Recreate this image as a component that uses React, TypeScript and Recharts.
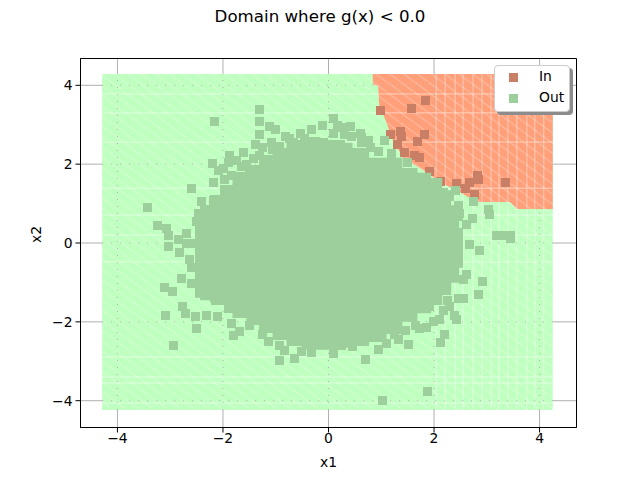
import {
  Area,
  CartesianGrid,
  ComposedChart,
  ReferenceArea,
  ReferenceLine,
  Scatter,
  XAxis,
  YAxis,
} from "recharts";

const LIM_X = 4.7;
const LIM_Y = 4.68;
const ticks = [-4, -2, 0, 2, 4];

const GREEN = "#bfffbf";
const CORAL = "#ffa07a";
const OUT_COLOR = "#9ccf9c";
const IN_COLOR = "#c87f65";

// lattice extent
const latticeX = [-4.29, 4.25];
const latticeY = [-4.235, 4.286];

// lower edge of the "In" part of the lattice
const inEdgeX = [0.84, 0.94, 0.96, 1.01, 1.22, 1.41, 1.79, 2.11, 2.49, 2.81, 3.44, 3.57, 4.25];
const inEdgeY = [4.03, 3.98, 3.5, 3.37, 2.61, 2.16, 1.85, 1.55, 1.29, 1.04, 1.04, 0.86, 0.86];

// pale seams between the lattice squares
const seamX = [2.04, 2.21, 2.4, 2.55, 2.74, 2.91, 3.08, 3.23, 3.4, 3.57, 3.76, 3.91, 4.08];
const seamY = [3.78, 3.3, 2.56, 1.39, 0.71, 0.2, -0.48, -2.89, -3.4, -3.55, -4.06];

// the overplotted middle of the cloud
const coreX = [-2.53, -2.34, -2.15, -1.96, -1.68, -1.43, -1.2, -0.92, -0.67, -0.35, 0.03, 0.31, 0.6, 0.94, 1.26, 1.54, 1.83, 2.06, 2.25, 2.4, 2.55];
const coreTop = [0.79, 0.96, 1.22, 1.47, 1.8, 1.98, 2.23, 2.41, 2.61, 2.69, 2.61, 2.54, 2.41, 2.16, 2.16, 1.9, 1.78, 1.65, 1.34, 0.96, 0.38];
const coreBottom = [-1.39, -1.45, -1.5, -1.57, -1.9, -2.08, -2.28, -2.46, -2.61, -2.71, -2.71, -2.66, -2.61, -2.51, -2.31, -2.0, -1.78, -1.57, -1.32, -1.01, -0.63];

const outX = [
  -1.31, -2.16, -1.3, -1.11, -1.01, -1.3, -0.81, -1.08, -1.39, -1.61, -1.87, -1.43, -2.19, -1.99, -1.64, -1.3,
  -2.18, -1.98, -1.49, -2.6, -2.4, -2.18, -3.43, -2.47, -3.24, -3.07, -3.04, -2.69, -2.85, -2.5, -2.28, -3.04,
  -2.83, -2.64, -2.78, -2.59, -3.11, -2.95, -2.76, -2.71, -3.09, -2.52, -2.32, -2.11, -2.51, -2.94, -1.83, -1.68,
  -1.8, -1.14, -0.84, -0.93, -0.65, 2.67, 2.86, 2.61, 2.55, 2.91, 2.84, 2.55, 2.47, 2.18, 2.38, 2.42, 1.99, 2.11,
  1.73, 1.86, 2.19, 2.12, 1.51, 1.45, 1.26, 1.1, 0.94, 0.7, 0.46, 0.25, 0.09, -0.32, -0.51, 1.87, 1.02, 1.92,
  1.06, 0.63, 1.2, 1.5, 2.74, 2.4, 3.04, 3.05, 3.19, 3.45, 3.44, 3.31, 2.73, 2.11, 2.46, 2.62, 2.49, 0.09, -0.12,
  -0.33, 0.18, 0.41, 0.09, 0.6, 0.44, -0.1, 0.22, 0.63, -0.54, -0.45, -0.67, 0.79, 2.21, 2.34, 2.46, 2.25,
  -2.09, -1.9, -1.75, -1.83, -1.56, -1.26, -0.92, -0.73, -1.07, -2.34, -2.44, -2.59, -2.7, -2.59, -2.44,
  0.31, 0.26, 0.75, 0.94, 2.3, 2.17, 2.46, -2.15, -1.9, -1.49, -1.26, -0.92, 1.32, 1.64, 2.26, 2.3,
];
const outY = [
  3.39, 3.09, 3.09, 2.95, 2.89, 2.76, 2.7, 2.55, 2.5, 2.3, 2.21, 2.15, 2.02, 1.89, 1.93, 2.23,
  1.54, 1.6, 1.81, 1.39, 1.05, 1.07, 0.91, 0.75, 0.44, 0.37, 0.2, 0.25, 0.1, 0.54, 0.63, -0.08,
  -0.24, -0.43, -0.9, -1.02, -1.12, -1.22, -1.6, -1.78, -1.83, -1.86, -1.83, -1.86, -2.16, -2.59, -2.05, -2.25,
  -2.34, -2.49, -2.73, -2.97, -2.92, -0.05, -0.2, -0.79, -0.92, -0.97, -1.3, -1.41, -1.42, -1.72, -1.83, -1.93, -1.98, -1.93,
  -2.18, -2.14, -2.33, -2.52, -2.57, -2.21, -2.33, -2.54, -2.71, -2.95, -2.63, -2.59, -2.81, -2.78, -2.74, -3.76, -3.99, -1.62,
  2.59, 2.67, 2.28, 2.03, 1.04, 1.32, 0.85, 0.73, 0.19, 0.2, 0.11, 0.18, 0.63, 1.13, 0.96, 0.46, 0.76, 3.16, 2.97,
  2.87, 2.99, 2.95, 2.78, 2.78, 2.7, 2.54, 2.49, 2.54, 2.79, 2.64, 2.54, 2.43, 0.79, 0.28, -0.18, -0.48,
  1.85, 2.05, 2.1, 1.72, 1.98, 2.41, 2.46, 2.66, 2.36, 0.84, 0.48, 0, 0, -0.63, -0.81,
  2.74, 2.92, 2.61, 2.31, 1.17, 1.27, 0.66, -1.45, -1.65, -2.08, -2.33, -2.59, -2.46, -2.08, -1.45, -1.62,
];

const inX = [1.84, 1.57, 0.98, 1.18, 1.37, 1.39, 1.82, 1.68, 1.31, 1.44, 1.63, 1.73, 1.92, 2.13, 2.43, 2.67, 2.83, 2.84, 2.59, 3.35, 2.77];
const inY = [3.62, 3.42, 3.37, 2.76, 2.82, 2.7, 2.74, 2.58, 2.5, 2.3, 2.21, 2.17, 1.81, 1.57, 1.52, 1.54, 1.71, 1.62, 1.37, 1.54, 1.22];

const latticeData = latticeX.map((x) => ({ x, range: latticeY }));
const inData = inEdgeX.map((x, i) => ({ x, range: [inEdgeY[i], latticeY[1]] }));
const coreData = coreX.map((x, i) => ({ x, range: [coreBottom[i], coreTop[i]] }));
const outData = outX.map((x, i) => ({ x, y: outY[i] }));
const inPoints = inX.map((x, i) => ({ x, y: inY[i] }));

const fmt = (v: number) => (v < 0 ? `\u2212${-v}` : `${v}`);
const tick = { fill: "#000", fontSize: 13.9 };

function square(color: string) {
  return ({ cx, cy }: { cx: number; cy: number }) => (
    <rect x={Math.round(cx - 4.5)} y={Math.round(cy - 4.5)} width={9} height={9} fill={color} />
  );
}

function Hatch({ id, color }: { id: string; color: string }) {
  return (
    <pattern id={id} patternUnits="userSpaceOnUse" width={13.8} height={10.2}>
      <rect width={13.8} height={10.2} fill={color} />
      <line x1={-1} y1={-0.74} x2={14.8} y2={10.94} stroke="#fff" strokeOpacity={0.3} />
    </pattern>
  );
}

function LegendBox() {
  const rows = [
    { label: "In", color: IN_COLOR, top: 7 },
    { label: "Out", color: OUT_COLOR, top: 28 },
  ];
  return (
    <div
      style={{
        position: "absolute",
        left: 494,
        top: 65,
        width: 76,
        height: 47,
        boxSizing: "border-box",
        background: "#fff",
        border: "1px solid #ccc",
        borderRadius: 4,
        boxShadow: "3px 3px 0 #8c8c8c",
      }}
    >
      {rows.map((r) => (
        <div key={r.label}>
          <span
            style={{ position: "absolute", left: 14, top: r.top, width: 9, height: 9, background: r.color }}
          />
          <span style={{ position: "absolute", left: 44, top: r.top - 6, fontSize: 13.9, lineHeight: "18px" }}>
            {r.label}
          </span>
        </div>
      ))}
    </div>
  );
}

export default function App() {
  return (
    <div
      style={{
        position: "absolute",
        left: 0,
        top: 0,
        width: 640,
        height: 480,
        background: "#fff",
        fontFamily: "'DejaVu Sans'",
      }}
    >
      <div style={{ position: "absolute", top: 7, width: 640, textAlign: "center", fontSize: 16.67 }}>
        Domain where g(x) {"<"} 0.0
      </div>
      <ComposedChart
        width={640}
        height={480}
        margin={{ top: 58.5, right: 63.5, bottom: 12.5, left: 40.5 }}
      >
        <defs>
          <Hatch id="greenFill" color={GREEN} />
          <Hatch id="coralFill" color={CORAL} />
        </defs>
        <CartesianGrid stroke="#b0b0b0" strokeWidth={1} horizontalValues={ticks} verticalValues={ticks} />
        <XAxis
          type="number"
          dataKey="x"
          domain={[-LIM_X, LIM_X]}
          allowDataOverflow
          ticks={ticks}
          tick={tick}
          tickFormatter={fmt}
          stroke="#000"
          height={40}
          tickSize={5}
          tickMargin={1}
          label={{ value: "x1", position: "insideBottom", offset: 1, fill: "#000", fontSize: 13.9 }}
        />
        <YAxis
          type="number"
          dataKey="y"
          domain={[-LIM_Y, LIM_Y]}
          allowDataOverflow
          ticks={ticks}
          tick={tick}
          tickFormatter={fmt}
          stroke="#000"
          width={40}
          tickSize={5}
          tickMargin={3}
          label={{ value: "x2", angle: -90, position: "insideLeft", offset: -4, fill: "#000", fontSize: 13.9 }}
        />
        <Area
          data={latticeData}
          dataKey="range"
          type="linear"
          stroke="none"
          fill="url(#greenFill)"
          fillOpacity={1}
          dot={false}
          activeDot={false}
          isAnimationActive={false}
        />
        <Area
          data={inData}
          dataKey="range"
          type="linear"
          stroke="none"
          fill="url(#coralFill)"
          fillOpacity={1}
          dot={false}
          activeDot={false}
          isAnimationActive={false}
        />
        {seamX.map((x) => (
          <ReferenceLine
            key={x}
            segment={[
              { x, y: latticeY[0] },
              { x, y: latticeY[1] },
            ]}
            stroke="#fff"
            strokeOpacity={0.45}
            zIndex={150}
          />
        ))}
        {seamY.map((y) => (
          <ReferenceLine
            key={y}
            segment={[
              { x: latticeX[0], y },
              { x: latticeX[1], y },
            ]}
            stroke="#fff"
            strokeOpacity={0.5}
            zIndex={150}
          />
        ))}
        {ticks.map((x) => (
          <ReferenceLine
            key={`dx${x}`}
            segment={[
              { x, y: latticeY[0] },
              { x, y: latticeY[1] },
            ]}
            stroke="#b0b0b0"
            strokeDasharray="1 6"
            zIndex={150}
          />
        ))}
        {ticks.map((y) => (
          <ReferenceLine
            key={`dy${y}`}
            segment={[
              { x: latticeX[0], y },
              { x: latticeX[1], y },
            ]}
            stroke="#b0b0b0"
            strokeDasharray="1 8"
            zIndex={150}
          />
        ))}
        <Scatter data={inPoints} shape={square(IN_COLOR)} isAnimationActive={false} zIndex={200} />
        <Area
          data={coreData}
          dataKey="range"
          type="step"
          stroke="none"
          fill={OUT_COLOR}
          fillOpacity={1}
          dot={false}
          activeDot={false}
          isAnimationActive={false}
          zIndex={300}
        />
        <Scatter data={outData} shape={square(OUT_COLOR)} isAnimationActive={false} zIndex={300} />
        <ReferenceArea x1={-LIM_X} x2={LIM_X} y1={-LIM_Y} y2={LIM_Y} stroke="#000" fill="none" fillOpacity={0} zIndex={400} />
      </ComposedChart>
      <LegendBox />
    </div>
  );
}
